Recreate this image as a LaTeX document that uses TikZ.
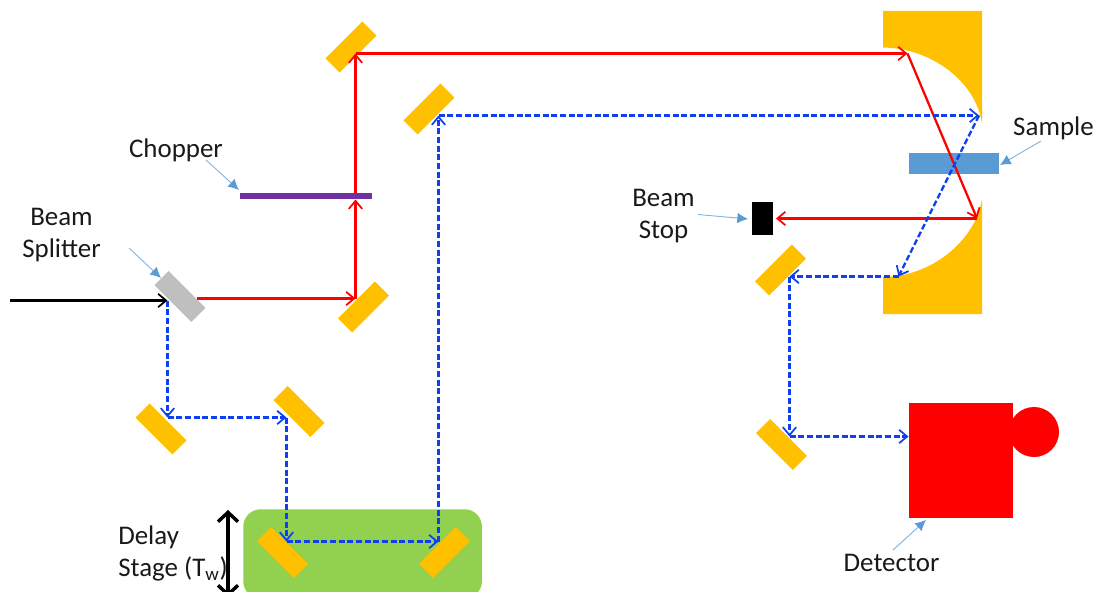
\documentclass[tikz,border=0pt]{standalone}
\usepackage{fontspec}
\setmainfont{Carlito}
\usetikzlibrary{arrows.meta}
\definecolor{gold}{HTML}{FFC000}
\definecolor{callout}{HTML}{5B9BD5}
\definecolor{stagegreen}{HTML}{92D050}
\definecolor{chopperpurple}{HTML}{7030A0}
\definecolor{beamblue}{HTML}{0F40F0}
\definecolor{splittergray}{HTML}{BFBFBF}
\tikzset{
  x=0.75pt,y=-0.75pt,
  mirror/.style={fill=gold,draw=none,minimum width=39pt,minimum height=15pt,inner sep=0pt},
  label text/.style={font=\fontsize{20.2}{24}\selectfont,inner sep=0pt,align=center,text=black!90},
  barb/.style={-{Straight Barb[length=6pt,width=10pt,line width=1.3pt]}},
  redbeam/.style={draw=red,line width=1.7pt,barb},
  bluebeam/.style={draw=beamblue,line width=1.7pt,dash pattern=on 4.5pt off 2pt,barb},
  blackbeam/.style={draw=black,line width=1.7pt,barb},
  calloutline/.style={draw=callout!75,line width=0.7pt,-{Latex[length=8pt,width=8pt,fill=callout,color=callout]}},
}
\begin{document}
\begin{tikzpicture}
\useasboundingbox (0,0) rectangle (1096,592);
\begin{scope}
\clip (0,0) rectangle (1096,592);
% delay stage
\node[fill=stagegreen,rounded corners=13pt,minimum width=179pt,minimum height=67pt,inner sep=0pt,anchor=north west] (stage) at (243,509) {};
% parabolic mirrors
\fill[gold] (883,11) -- (982,11) -- (982,123) .. controls (975,80) and (930,48) .. (883,47.5) -- cycle;
\fill[gold] (883,314) -- (982,314) -- (982,199) .. controls (975,242) and (930,277) .. (883,277) -- cycle;
% flat mirrors
\node[mirror,rotate=45] (m1) at (351,47) {};
\node[mirror,rotate=45] (m2) at (429,109) {};
\node[mirror,rotate=45] (m3) at (363.5,307) {};
\node[mirror,rotate=-45] (m4) at (161,429) {};
\node[mirror,rotate=-45] (m5) at (299,411.5) {};
\node[mirror,rotate=-45] (m6) at (282.5,552.5) {};
\node[mirror,rotate=45] (m7) at (444.5,552.5) {};
\node[mirror,rotate=45] (m8) at (780.5,270) {};
\node[mirror,rotate=-45] (m9) at (781.5,444.5) {};
\node[mirror,rotate=-45,fill=splittergray] (bs) at (180,296.5) {};
% other components
\node[fill=chopperpurple,minimum width=99pt,minimum height=4.5pt,inner sep=0pt] (chopper) at (306,196) {};
\node[fill=callout,minimum width=67.7pt,minimum height=15.5pt,inner sep=0pt] (sample) at (953.8,163.7) {};
\node[fill=black,minimum width=15.75pt,minimum height=24.75pt,inner sep=0pt] (stop) at (762.5,218.5) {};
\node[fill=red,minimum width=78pt,minimum height=86.25pt,inner sep=0pt] (det) at (961,460.5) {};
\node[fill=red,circle,minimum size=37.5pt,inner sep=0pt] (detc) at (1034,432) {};
% beam points
\coordinate (in) at (10,300.5);
\coordinate (pbs) at (167.5,300.5);
\coordinate (rs) at (197,298.5);
\coordinate (r3) at (355.5,298.5);
\coordinate (chb) at (355.5,199.5);
\coordinate (cht) at (355.5,193);
\coordinate (r1) at (355.5,53.5);
\coordinate (pa) at (907.5,53.5);
\coordinate (pb) at (977,218.5);
\coordinate (stopr) at (776,218.5);
\coordinate (b4) at (167.5,417.5);
\coordinate (b5) at (286.5,417.5);
\coordinate (b6) at (286.5,541.5);
\coordinate (b7) at (438.5,541.5);
\coordinate (b2) at (438.5,115.5);
\coordinate (pc) at (979,115.5);
\coordinate (pd) at (898.5,276.5);
\coordinate (b8) at (789.5,276.5);
\coordinate (b9) at (789.5,436.5);
\coordinate (detl) at (908.5,436.5);
% beams
\draw[blackbeam] (in) -- (pbs);
\draw[redbeam] (rs) -- (r3);
\draw[redbeam] (r3) -- (chb);
\draw[redbeam] (cht) -- (r1);
\draw[redbeam] (r1) -- (pa);
\draw[redbeam] (pa) -- (pb);
\draw[redbeam] (pb) -- (stopr);
\draw[bluebeam] (pbs) -- (b4);
\draw[bluebeam] (b4) -- (b5);
\draw[bluebeam] (b5) -- (b6);
\draw[bluebeam] (b6) -- (b7);
\draw[bluebeam] (b7) -- (b2);
\draw[bluebeam] (b2) -- (pc);
\draw[bluebeam] (pc) -- (pd);
\draw[bluebeam] (pd) -- (b8);
\draw[bluebeam] (b8) -- (b9);
\draw[bluebeam] (b9) -- (detl);
% stage motion arrow
\coordinate (dt) at (228,510);
\coordinate (db) at (228,597);
\draw[line width=3pt,{Straight Barb[length=7pt,width=15pt,line width=2.6pt]}-{Straight Barb[length=7pt,width=15pt,line width=2.6pt]}] (dt) -- (db);
% labels
\node[label text] (lchopper) at (176,150) {Chopper};
\node[label text] (lbs) at (61.5,235) {Beam\\Splitter};
\node[label text] (lstop) at (663.5,216.5) {Beam\\Stop};
\node[label text] (lsample) at (1053.5,128) {Sample};
\node[label text] (ldet) at (891.5,563) {Detector};
\node[label text,align=left,anchor=west] (ldelay) at (118,553) {Delay\\Stage (T\textsubscript{w})};
% callouts
\coordinate (c1s) at (206,160);
\coordinate (c1e) at (239,190);
\coordinate (c2s) at (129,248);
\coordinate (c2e) at (161,278);
\coordinate (c3s) at (698,214.5);
\coordinate (c3e) at (748,219);
\coordinate (c4s) at (1041,141);
\coordinate (c4e) at (1000,165);
\coordinate (c5s) at (893,550);
\coordinate (c5e) at (926,520);
\draw[calloutline] (c1s) -- (c1e);
\draw[calloutline] (c2s) -- (c2e);
\draw[calloutline] (c3s) -- (c3e);
\draw[calloutline] (c4s) -- (c4e);
\draw[calloutline] (c5s) -- (c5e);
\end{scope}
\end{tikzpicture}
\end{document}
